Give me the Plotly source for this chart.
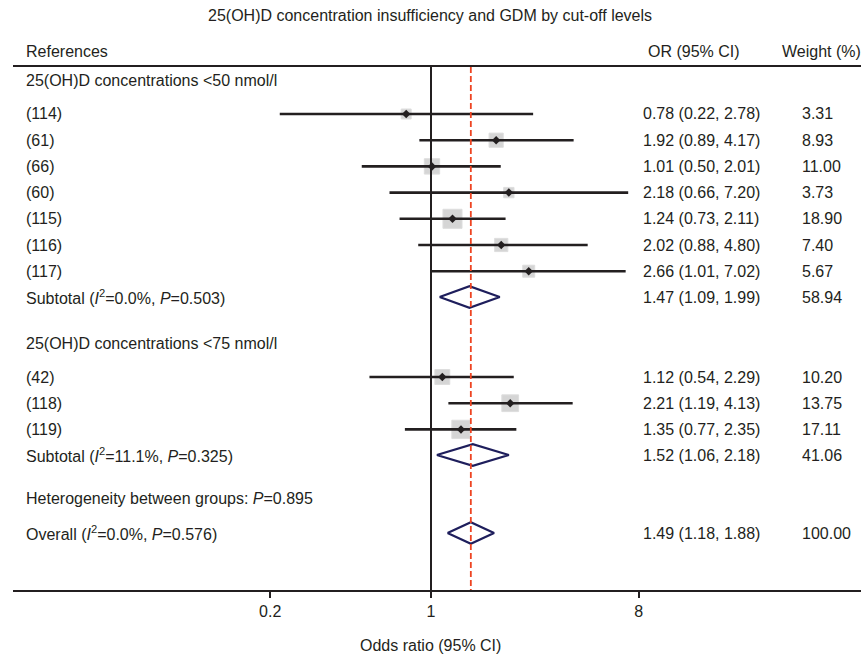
import plotly.graph_objects as go
import math

# ---------------- data ----------------
title_text = "25(OH)D concentration insufficiency and GDM by cut-off levels"
group1_label = "25(OH)D concentrations &lt;50 nmol/l"
group1_refs = ["(114)", "(61)", "(66)", "(60)", "(115)", "(116)", "(117)"]
group1_or = [0.78, 1.92, 1.01, 2.18, 1.24, 2.02, 2.66]
group1_lo = [0.22, 0.89, 0.50, 0.66, 0.73, 0.88, 1.01]
group1_hi = [2.78, 4.17, 2.01, 7.20, 2.11, 4.80, 7.02]
group1_w = [3.31, 8.93, 11.00, 3.73, 18.90, 7.40, 5.67]
sub1_label = "Subtotal (<i>I</i><sup>2</sup>=0.0%, <i>P</i>=0.503)"
sub1 = [1.47, 1.09, 1.99, 58.94]

group2_label = "25(OH)D concentrations &lt;75 nmol/l"
group2_refs = ["(42)", "(118)", "(119)"]
group2_or = [1.12, 2.21, 1.35]
group2_lo = [0.54, 1.19, 0.77]
group2_hi = [2.29, 4.13, 2.35]
group2_w = [10.20, 13.75, 17.11]
sub2_label = "Subtotal (<i>I</i><sup>2</sup>=11.1%, <i>P</i>=0.325)"
sub2 = [1.52, 1.06, 2.18, 41.06]

het_label = "Heterogeneity between groups: <i>P</i>=0.895"
overall_label = "Overall (<i>I</i><sup>2</sup>=0.0%, <i>P</i>=0.576)"
overall = [1.49, 1.18, 1.88, 100.00]

tick_vals = [0.2, 1, 8]
tick_text = ["0.2", "1", "8"]
x_title = "Odds ratio (95% CI)"
col_headers = ["References", "OR (95% CI)", "Weight (%)"]

# ---------------- layout helpers ----------------
W, H = 861, 655
L, R, T, B = 13, 0, 67, 65
AX_Y = H - B
PX_PER_DEC = 230.0
X1_PX = 431.0
xr = [(L - X1_PX) / PX_PER_DEC, (W - R - X1_PX) / PX_PER_DEC]

def pxx(px):
    return (px - L) / (W - L - R)

def pxy(py):
    return (AX_Y - py) / (H - T - B)

FONT = "Liberation Sans, Arial, sans-serif"
FS = 16
TXT = "#231f20"
LINEC = "#231f20"
NAVY = "#1e1e5c"
RED = "#ee4422"

step = 26.2
y_h1 = 80
y_g1 = [114 + step * i for i in range(len(group1_refs))]
y_s1 = 297
y_h2 = 343
y_g2 = [377 + step * i for i in range(len(group2_refs))]
y_s2 = 455
y_het = 498
y_ov = 533
dh = 10.8

fig = go.Figure()

all_or = group1_or + group2_or
all_lo = group1_lo + group2_lo
all_hi = group1_hi + group2_hi
all_w = group1_w + group2_w
all_y = y_g1 + y_g2
sizes = [3.4 + 3.6 * math.sqrt(w) for w in all_w]

# weight squares
fig.add_trace(go.Scatter(x=all_or, y=all_y, mode="markers",
                         marker=dict(symbol="square", size=sizes, color="#c4c4c4",
                                     line=dict(color="#d0d0d0", width=1)),
                         hoverinfo="skip"))

# CI lines
cx, cy = [], []
for lo, hi, y in zip(all_lo, all_hi, all_y):
    cx += [lo, hi, None]
    cy += [y, y, None]
fig.add_trace(go.Scatter(x=cx, y=cy, mode="lines",
                         line=dict(color=LINEC, width=2.6), hoverinfo="skip"))

# center points
fig.add_trace(go.Scatter(x=all_or, y=all_y, mode="markers",
                         marker=dict(symbol="diamond", size=6.5, color=LINEC),
                         hoverinfo="skip"))

# null line
fig.add_trace(go.Scatter(x=[1, 1], y=[T, AX_Y], mode="lines",
                         line=dict(color=LINEC, width=2), hoverinfo="skip"))

# diamonds
for est, y in [(sub1, y_s1), (sub2, y_s2), (overall, y_ov)]:
    e, lo, hi = est[0], est[1], est[2]
    fig.add_trace(go.Scatter(x=[lo, e, hi, e, lo], y=[y, y - dh, y, y + dh, y],
                             mode="lines", fill="toself", fillcolor="white",
                             line=dict(color=NAVY, width=2.2), hoverinfo="skip"))

# overall estimate dashed line
fig.add_trace(go.Scatter(x=[overall[0], overall[0]], y=[T, AX_Y], mode="lines",
                         line=dict(color=RED, width=1.8, dash="6px,3px"),
                         hoverinfo="skip"))

ann = []

def text(px, py, s, anchor="left", size=FS):
    ann.append(dict(x=pxx(px), y=pxy(py), xref="paper", yref="paper", text=s,
                    showarrow=False, xanchor=anchor, yanchor="middle",
                    font=dict(family=FONT, size=size, color=TXT)))

text(430, 15, title_text, "center")
text(24, 51, col_headers[0])
text(694, 51, col_headers[1], "center")
text(821, 51, col_headers[2], "center")

X_LBL, X_OR, X_W = 24, 641, 800

def ci_str(e, lo, hi):
    return f"{e:.2f} ({lo:.2f}, {hi:.2f})"

text(X_LBL, y_h1, group1_label)
for r, e, lo, hi, w, y in zip(group1_refs, group1_or, group1_lo, group1_hi, group1_w, y_g1):
    text(X_LBL, y, r)
    text(X_OR, y, ci_str(e, lo, hi))
    text(X_W, y, f"{w:.2f}")
text(X_LBL, y_s1, sub1_label)
text(X_OR, y_s1, ci_str(*sub1[:3]))
text(X_W, y_s1, f"{sub1[3]:.2f}")

text(X_LBL, y_h2, group2_label)
for r, e, lo, hi, w, y in zip(group2_refs, group2_or, group2_lo, group2_hi, group2_w, y_g2):
    text(X_LBL, y, r)
    text(X_OR, y, ci_str(e, lo, hi))
    text(X_W, y, f"{w:.2f}")
text(X_LBL, y_s2, sub2_label)
text(X_OR, y_s2, ci_str(*sub2[:3]))
text(X_W, y_s2, f"{sub2[3]:.2f}")

text(X_LBL, y_het, het_label)
text(X_LBL, y_ov, overall_label)
text(X_OR, y_ov, ci_str(*overall[:3]))
text(X_W, y_ov, f"{overall[3]:.2f}")

text(430, 645, x_title, "center")

fig.update_layout(
    width=W, height=H, margin=dict(l=L, r=R, t=T, b=B, pad=0),
    paper_bgcolor="white", plot_bgcolor="white", showlegend=False,
    annotations=ann,
    xaxis=dict(type="log", range=xr, tickvals=tick_vals, ticktext=tick_text,
               showgrid=False, zeroline=False, showline=True, mirror=True,
               linecolor=LINEC, linewidth=2, ticks="outside", ticklen=6,
               tickwidth=2, tickcolor=LINEC,
               tickfont=dict(family=FONT, size=FS, color=TXT)),
    yaxis=dict(range=[AX_Y, T], showgrid=False, zeroline=False, showline=False,
               showticklabels=False, ticks=""),
)

fig.write_html("out.html", config={"displayModeBar": False},
               post_script="document.body.style.margin='0';document.body.style.overflow='hidden';")
